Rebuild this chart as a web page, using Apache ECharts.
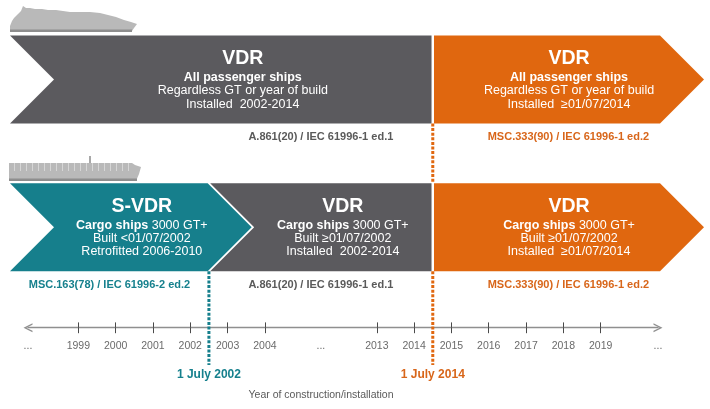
<!DOCTYPE html>
<html>
<head>
<meta charset="utf-8">
<script src="https://cdn.jsdelivr.net/npm/echarts@6/dist/echarts.min.js"></script>
<style>
  html, body { margin: 0; padding: 0; background: #fff; }
  #chart { width: 710px; height: 409px; }
</style>
</head>
<body>
<div id="chart"></div>
<script>
// timeline: years shown on the axis, 2005-2012 are squeezed out
const years = [1999, 2000, 2001, 2002, 2003, 2004, 2013, 2014, 2015, 2016, 2017, 2018, 2019];
const brokenYears = [2004, 2013];

// bands (one per arrow), row 0 = passenger ships, row 1 = cargo ships
const bandRow = [0, 0, 1, 1, 1];
const bandFrom = [2002.5, 2014.5, null, 2002.5, 2014.5];
const bandTo = [2014.5, null, 2002.5, 2014.5, null];
const bandKind = ["grey", "orange", "teal", "grey", "orange"];
const bandPointed = [false, true, true, false, true];
const bandTitle = ["VDR", "VDR", "S-VDR", "VDR", "VDR"];
const bandShips = ["All passenger ships", "All passenger ships", "Cargo ships", "Cargo ships", "Cargo ships"];
const bandSize = ["", "", " 3000 GT+", " 3000 GT+", " 3000 GT+"];
const bandLine2 = ["Regardless GT or year of build", "Regardless GT or year of build", "Built <01/07/2002", "Built \u226501/07/2002", "Built \u226501/07/2002"];
const bandLine3 = ["Installed  2002-2014", "Installed  \u226501/07/2014", "Retrofitted 2006-2010", "Installed  2002-2014", "Installed  \u226501/07/2014"];
const bandStandard = ["A.861(20) / IEC 61996-1 ed.1", "MSC.333(90) / IEC 61996-1 ed.2", "MSC.163(78) / IEC 61996-2 ed.2", "A.861(20) / IEC 61996-1 ed.1", "MSC.333(90) / IEC 61996-1 ed.2"];

// key dates
const eventYear = [2002.5, 2014.5];
const eventLabel = ["1 July 2002", "1 July 2014"];
const eventKind = ["teal", "orange"];

// layout
const W = 710, H = 409;
const SLOT = 37.31, ORIGIN = 78.33, GAP_SLOTS = 3;
const EDGE_L = 10, EDGE_R = 660, TIP = 44, SPLIT = 2.5;
const ROW_TOP = [35.5, 183.3], ROW_H = 88;
const AXIS_L = 28, AXIS_R = 658, AXIS_Y = 327.7, MARK_END = 365;
const fillColor = { grey: "#5b5a5e", orange: "#e0670f", teal: "#167f8c" };
const textColor = { grey: "#5a5a5a", orange: "#d8661a", teal: "#16808d" };
const FONT = '"Liberation Sans", Arial, sans-serif';

function slot(y) {
  if (y >= brokenYears[1]) return y - brokenYears[1] + (brokenYears[0] - years[0]) + GAP_SLOTS;
  return y - years[0];
}
const pxToSlot = (px) => (px - ORIGIN) / SLOT;

const tickSlots = years.map(slot);
const dotSlots = [pxToSlot(AXIS_L), slot(brokenYears[0]) + GAP_SLOTS / 2, pxToSlot(AXIS_R)];
const labelSlots = dotSlots.concat(tickSlots);

function axisLabelText(v) {
  const k = tickSlots.findIndex((s) => Math.abs(s - v) < 1e-6);
  return k >= 0 ? String(years[k]) : "...";
}

function renderBand(params, api) {
  const i = api.value(0);
  const row = bandRow[i];
  const first = bandRow.indexOf(row) === i;
  const top = api.coord([0, ROW_TOP[row]])[1];
  const bottom = api.coord([0, ROW_TOP[row] + ROW_H])[1];
  const mid = (top + bottom) / 2;
  const px = (y) => api.coord([slot(y), 0])[0];

  const left = first ? EDGE_L : px(bandFrom[i]) + SPLIT / 2;
  const notch = first || bandPointed[i - 1];
  const right = bandTo[i] == null ? EDGE_R : px(bandTo[i]) - SPLIT / 2;

  const pts = [[left, top], [right, top]];
  if (bandPointed[i]) pts.push([right + TIP, mid]);
  pts.push([right, bottom], [left, bottom]);
  if (notch) pts.push([left + TIP, mid]);

  const innerL = notch ? left + TIP : left;
  const outerR = bandTo[i] == null ? right + TIP : (bandPointed[i] ? right + TIP / 2 : right);
  const cx = (innerL + outerR) / 2;

  const pFrom = bandFrom[i] == null ? EDGE_L : px(bandFrom[i]);
  const pTo = bandTo[i] == null ? EDGE_R + TIP : px(bandTo[i]);

  const white = { fill: "#fff", fontFamily: FONT, align: "center", verticalAlign: "middle" };
  return {
    type: "group",
    children: [
      { type: "polygon", shape: { points: pts }, style: { fill: fillColor[bandKind[i]] } },
      { type: "text", style: Object.assign({ x: cx, y: top + 23.5, text: bandTitle[i], fontSize: 19.5, fontWeight: "bold" }, white) },
      {
        type: "text",
        style: Object.assign({
          x: cx, y: top + 42, fontSize: 12.5,
          text: "{b|" + bandShips[i] + "}" + bandSize[i],
          rich: { b: { fill: "#fff", fontSize: 12.5, fontWeight: "bold", fontFamily: FONT } }
        }, white)
      },
      { type: "text", style: Object.assign({ x: cx, y: top + 55.3, text: bandLine2[i], fontSize: 12.5 }, white) },
      { type: "text", style: Object.assign({ x: cx, y: top + 68.6, text: bandLine3[i], fontSize: 12.5 }, white) },
      {
        type: "text",
        style: {
          x: (pFrom + pTo) / 2, y: bottom + 13.5, text: bandStandard[i],
          fill: textColor[bandKind[i]], fontSize: 11, fontWeight: "bold", fontFamily: FONT,
          align: "center", verticalAlign: "middle"
        }
      }
    ]
  };
}

function renderEvent(params, api) {
  const i = api.value(0);
  const x = api.coord([slot(eventYear[i]), 0])[0];
  const rowsHit = ROW_TOP.map((t, r) => bandTo.some((v, b) => bandRow[b] === r && v === eventYear[i]));
  const firstRow = rowsHit.indexOf(true);
  const color = fillColor[eventKind[i]];
  const children = [];
  for (let r = firstRow; r < ROW_TOP.length; r++) {
    const y1 = api.coord([0, ROW_TOP[r] + ROW_H])[1];
    const y2 = api.coord([0, r + 1 < ROW_TOP.length ? ROW_TOP[r + 1] : MARK_END])[1];
    children.push({
      type: "line",
      shape: { x1: x, y1: y1, x2: x, y2: y2 },
      style: { stroke: color, lineWidth: 3, lineDash: [3, 1.6] }
    });
  }
  children.push({
    type: "text",
    style: {
      x: x, y: api.coord([0, MARK_END + 10])[1], text: eventLabel[i],
      fill: textColor[eventKind[i]], fontSize: 12, fontWeight: "bold", fontFamily: FONT,
      align: "center", verticalAlign: "middle"
    }
  });
  return { type: "group", children: children };
}

const ARROW = "path://M0,10 L5,0 L10,10 L8.4,10 L5,3.2 L1.6,10 Z";

// container stacks on the cargo ship silhouette
const containerLines = [];
for (let x = 14; x < 130; x += 6) {
  containerLines.push({ type: "rect", z: 1, shape: { x: x, y: 163, width: 1, height: 8 }, style: { fill: "#d6d6d6" } });
}

const option = {
  animation: false,
  backgroundColor: "#fff",
  grid: [
    { left: 0, right: 0, top: 0, bottom: 0 },
    { left: AXIS_L, right: W - AXIS_R, top: AXIS_Y - 10, height: 10 }
  ],
  xAxis: [
    { gridIndex: 0, type: "value", min: pxToSlot(0), max: pxToSlot(W), show: false },
    {
      gridIndex: 1, type: "value", position: "bottom",
      min: pxToSlot(AXIS_L), max: pxToSlot(AXIS_R),
      axisLine: { show: true, symbol: [ARROW, ARROW], symbolSize: [12, 9], lineStyle: { color: "#8f8f8f", width: 1.3 } },
      axisTick: { show: true, length: 5.5, customValues: tickSlots, lineStyle: { color: "#4a4a4a" } },
      axisLabel: { customValues: labelSlots, formatter: axisLabelText, margin: 12.5, color: "#6b6b6b", fontSize: 10.5, fontFamily: FONT },
      splitLine: { show: false },
      name: "Year of construction/installation",
      nameLocation: "middle", nameGap: 62,
      nameTextStyle: { color: "#5a5a5a", fontSize: 10.5, fontFamily: FONT, padding: [0, 44, 0, 0] }
    },
    {
      gridIndex: 1, type: "value", position: "bottom",
      min: pxToSlot(AXIS_L), max: pxToSlot(AXIS_R),
      axisLine: { show: false },
      axisTick: { show: true, inside: true, length: 5.3, customValues: tickSlots, lineStyle: { color: "#4a4a4a" } },
      axisLabel: { show: false },
      splitLine: { show: false }
    }
  ],
  yAxis: [
    { gridIndex: 0, type: "value", min: 0, max: H, inverse: true, show: false },
    { gridIndex: 1, type: "value", show: false }
  ],
  graphic: [
    // cruise ship silhouette
    {
      type: "polygon", z: 1,
      shape: { points: [[10, 31], [10, 26], [12, 21], [14, 18], [18, 14], [21, 11], [23, 6], [26, 8], [30, 8], [35, 9], [42, 9], [48, 10], [56, 10], [63, 11], [70, 12], [80, 12], [90, 12], [100, 13], [108, 15], [116, 17], [124, 20], [131, 22], [137, 24], [134, 28], [132, 31]] },
      style: { fill: "#b9b9b9" }
    },
    { type: "rect", z: 1, shape: { x: 10, y: 29.5, width: 122, height: 2.5 }, style: { fill: "#8e8e8e" } },
    // cargo ship silhouette
    {
      type: "polygon", z: 1,
      shape: { points: [[9, 181], [9, 163], [132, 163], [135, 165], [141, 167], [139, 174], [136, 181]] },
      style: { fill: "#b9b9b9" }
    },
    { type: "rect", z: 1, shape: { x: 89, y: 156, width: 2, height: 7 }, style: { fill: "#a8a8a8" } },
    { type: "rect", z: 1, shape: { x: 9, y: 178.5, width: 128, height: 2.5 }, style: { fill: "#8e8e8e" } }
  ].concat(containerLines),
  series: [
    {
      type: "custom", xAxisIndex: 0, yAxisIndex: 0, z: 2,
      data: bandRow.map((r, i) => [i]),
      renderItem: renderBand
    },
    {
      type: "custom", xAxisIndex: 0, yAxisIndex: 0, z: 3,
      data: eventYear.map((y, i) => [i]),
      renderItem: renderEvent
    }
  ]
};

const chart = echarts.init(document.getElementById("chart"), null, { renderer: "canvas" });
chart.setOption(option);
window.addEventListener("resize", () => chart.resize());
</script>
</body>
</html>
